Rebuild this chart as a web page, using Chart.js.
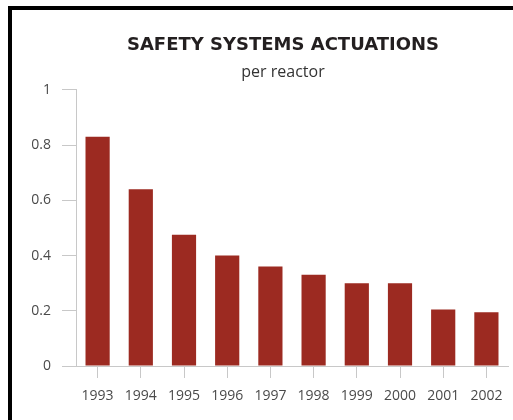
<!DOCTYPE html>
<html>
<head>
<meta charset="utf-8">
<script src="https://cdn.jsdelivr.net/npm/chart.js@4.4.1/dist/chart.umd.min.js"></script>
<style>
    html, body {
        margin: 0;
        padding: 0;
        background: #ffffff;
    }
    .wrap {
        position: relative;
        width: 513px;
        height: 420px;
        overflow: hidden;
    }
    .frame {
        position: absolute;
        left: 8px;
        top: 6px;
        width: 520px;
        height: 430px;
        border-top: 4px solid #000;
        border-left: 4px solid #000;
    }
    #chart {
        position: absolute;
        left: 0;
        top: 0;
    }
</style>
</head>
<body>
<div class="wrap">
    <div class="frame"></div>
    <canvas id="chart" width="513" height="420"></canvas>
</div>
<script>
const years = ["1993", "1994", "1995", "1996", "1997", "1998", "1999", "2000", "2001", "2002"];
const actuations = [0.83, 0.64, 0.475, 0.40, 0.36, 0.33, 0.30, 0.30, 0.205, 0.195];
const yTicks = [0, 0.2, 0.4, 0.6, 0.8, 1];

const barColor = "#9c2a21";
const axisColor = "#c8c8c8";
const labelColor = "#4a4a4a";

// title block in the reference is centred a bit right of the canvas middle
const shiftTitles = {
    id: "shiftTitles",
    afterLayout(chart) {
        chart.boxes.forEach((box) => {
            if (box.position === "top" && box.options && box.options.text !== undefined) {
                box.left = 58;
                box.right = 508;
            }
        });
    }
};

new Chart(document.getElementById("chart"), {
    type: "bar",
    data: {
        labels: years,
        datasets: [{
            data: actuations,
            backgroundColor: barColor,
            borderWidth: 0,
            categoryPercentage: 1,
            barPercentage: 0.56
        }]
    },
    options: {
        responsive: false,
        animation: false,
        layout: {
            padding: { left: 0, right: 5, top: 0, bottom: 0 }
        },
        plugins: {
            legend: { display: false },
            tooltip: { enabled: false },
            title: {
                display: true,
                text: "SAFETY SYSTEMS ACTUATIONS",
                color: "#231f20",
                font: { family: "DejaVu Sans", size: 18, weight: "bold" },
                padding: { top: 35, bottom: 6 }
            },
            subtitle: {
                display: true,
                text: "per reactor",
                color: "#333333",
                font: { family: "Open Sans", size: 16 },
                padding: { top: 0, bottom: 8 }
            }
        },
        scales: {
            x: {
                offset: true,
                grid: {
                    offset: false,
                    drawOnChartArea: false,
                    color: axisColor,
                    tickLength: 12
                },
                border: { color: axisColor },
                ticks: {
                    color: labelColor,
                    padding: 10,
                    maxRotation: 0,
                    font: { family: "Open Sans", size: 14 }
                },
                afterFit: (scale) => { scale.height = 54; }
            },
            y: {
                min: 0,
                max: 1,
                afterBuildTicks: (scale) => {
                    scale.ticks = yTicks.map((v) => ({ value: v }));
                },
                grid: {
                    drawOnChartArea: false,
                    color: axisColor,
                    tickLength: 14
                },
                border: { color: axisColor },
                ticks: {
                    color: labelColor,
                    padding: 11,
                    font: { family: "Open Sans", size: 14 },
                    callback: (value) => String(value)
                },
                afterFit: (scale) => { scale.width = 76; }
            }
        }
    },
    plugins: [shiftTitles]
});
</script>
</body>
</html>
